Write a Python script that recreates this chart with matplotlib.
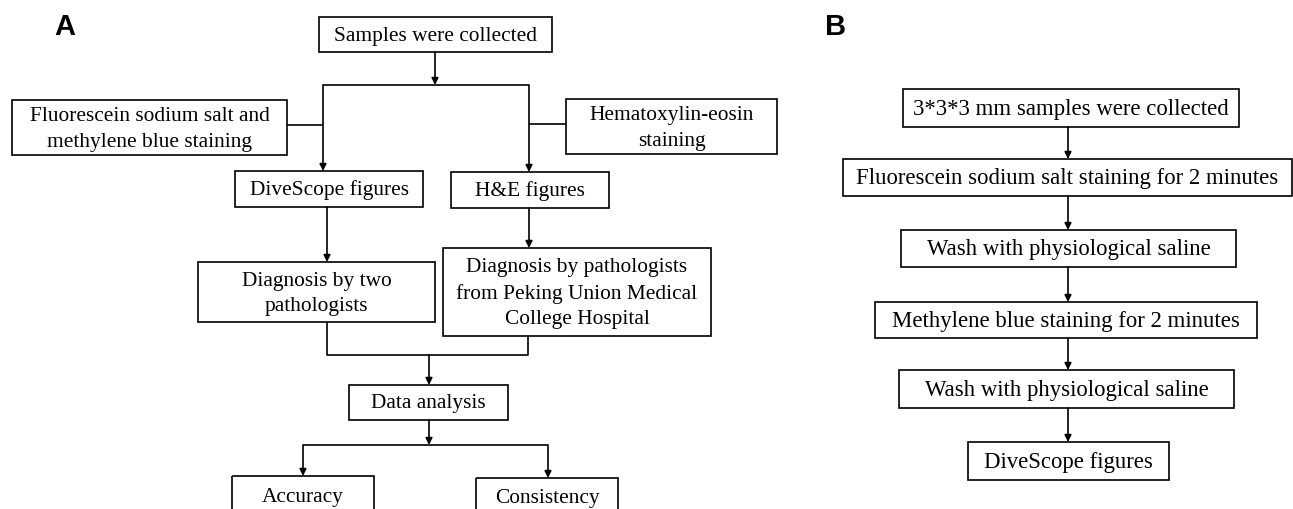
import matplotlib.pyplot as plt
from matplotlib.patches import Rectangle

# box labels
labels_a = [
    "Samples were collected",
    "Fluorescein sodium salt and\nmethylene blue staining",
    "Hematoxylin-eosin\nstaining",
    "DiveScope figures",
    "H&E figures",
    "Diagnosis by two\npathologists",
    "Diagnosis by pathologists\nfrom Peking Union Medical\nCollege Hospital",
    "Data analysis",
    "Accuracy",
    "Consistency",
]
labels_b = [
    "3*3*3 mm samples were collected",
    "Fluorescein sodium salt staining for 2 minutes",
    "Wash with physiological saline",
    "Methylene blue staining for 2 minutes",
    "Wash with physiological saline",
    "DiveScope figures",
]

# layout in pixels: (x0, y0, x1, y1)
boxes_a = [
    (319, 18, 552, 53),
    (12, 101, 287, 156),
    (566, 100, 777, 155),
    (235, 172, 423, 208),
    (451, 173, 609, 209),
    (198, 263, 435, 323),
    (443, 249, 711, 337),
    (349, 386, 508, 421),
    (232, 477, 374, 520),
    (476, 479, 618, 520),
]
text_y_a = [36, 129.5, 128.5, 190, 191, 294, 293.5, 404, 498, 499]
boxes_b = [
    (903, 90, 1239, 128),
    (843, 160, 1292, 197),
    (901, 231, 1236, 268),
    (875, 303, 1257, 339),
    (899, 371, 1234, 409),
    (968, 443, 1169, 481),
]

W, H = 1293, 510
fig = plt.figure(figsize=(W / 100, H / 100), dpi=100)
ax = fig.add_axes([0, 0, 1, 1])
ax.set_xlim(0, W)
ax.set_ylim(H, 0)
ax.axis('off')

LW = 1.2
FS_A = 15.4
FS_B = 16.4
SERIF = 'Liberation Serif'


def box(b, txt, fs, ty=None):
    x0, y0, x1, y1 = b
    ax.add_patch(Rectangle((x0, y0), x1 - x0, y1 - y0, fill=False,
                           ec='black', lw=LW, zorder=2))
    cy = (y0 + y1) / 2 if ty is None else ty
    ax.text((x0 + x1) / 2, cy, txt, ha='center', va='center',
            fontsize=fs, family=SERIF, linespacing=1.48, zorder=3)


def line(xs, ys):
    ax.plot(xs, ys, color='black', lw=LW, solid_capstyle='butt', zorder=1)


def arrow(x, y0, y1):
    ax.annotate("", xy=(x, y1), xytext=(x, y0),
                arrowprops=dict(arrowstyle='-|>', color='black', lw=LW,
                                shrinkA=0, shrinkB=0, mutation_scale=10))


for b, t, ty in zip(boxes_a, labels_a, text_y_a):
    box(b, t, FS_A, ty)
for b, t in zip(boxes_b, labels_b):
    box(b, t, FS_B, (b[1] + b[3]) / 2 + 0.5)

# panel A connectors
arrow(435, 53, 86)
line([323, 529], [86, 86])
line([287, 323], [126, 126])
line([529, 566], [125, 125])
arrow(323, 86, 172)
arrow(529, 86, 173)
arrow(327, 208, 263)
arrow(529, 209, 249)
line([327, 327, 528, 528], [323, 356, 356, 337])
arrow(429, 356, 386)
arrow(429, 421, 446)
line([303, 548], [446, 446])
arrow(303, 446, 477)
arrow(548, 446, 479)

# panel B connectors
for (b_top, b_bot) in zip(boxes_b[:-1], boxes_b[1:]):
    arrow(1068, b_top[3], b_bot[1])

ax.text(54, 27, "A", fontsize=21, fontweight='bold', family='Liberation Sans',
        ha='left', va='center')
ax.text(825, 27, "B", fontsize=21, fontweight='bold', family='Liberation Sans',
        ha='left', va='center')

fig.savefig('out.png', dpi=100, facecolor='white')
